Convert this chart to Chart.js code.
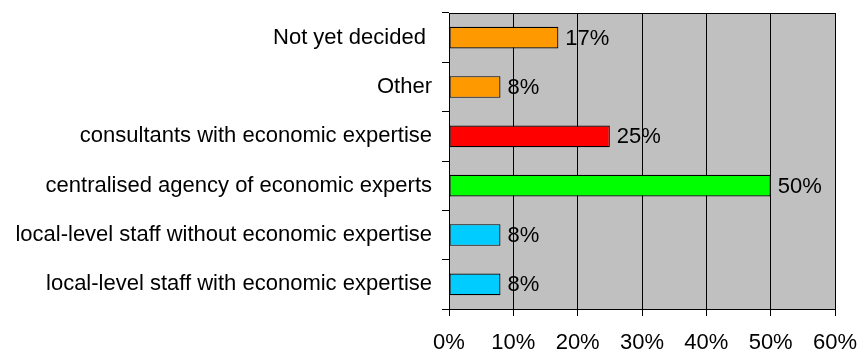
<!DOCTYPE html>
<html>
<head>
<meta charset="utf-8">
<script src="https://cdn.jsdelivr.net/npm/chart.js@4/dist/chart.umd.min.js"></script>
<style>
  html, body { margin: 0; padding: 0; background: #ffffff; }
  #wrap { width: 858px; height: 352px; position: relative; }
</style>
</head>
<body>
<div id="wrap"><canvas id="chart" width="858" height="352"></canvas></div>
<script>
// Survey answers, top to bottom
const categories = [
  'Not yet decided ',
  'Other',
  'consultants with economic expertise',
  'centralised agency of economic experts',
  'local-level staff without economic expertise',
  'local-level staff with economic expertise'
];
// Share of respondents, percent
const shares = [17, 8, 25, 50, 8, 8];
const barColors = ['#FF9900', '#FF9900', '#FF0000', '#00FF00', '#00CCFF', '#00CCFF'];
const xTicks = [0, 10, 20, 30, 40, 50, 60];

const FONT = "'Liberation Sans', Arial, sans-serif";

// Grey plot background plus the thin top edge of the plot frame
const plotFrame = {
  id: 'plotFrame',
  beforeDraw(chart) {
    const { ctx, chartArea: a } = chart;
    ctx.save();
    ctx.fillStyle = '#C0C0C0';
    ctx.fillRect(a.left, a.top, a.right - a.left, a.bottom - a.top);
    ctx.strokeStyle = '#000000';
    ctx.lineWidth = 1;
    ctx.beginPath();
    ctx.moveTo(a.left, Math.round(a.top) + 0.5);
    ctx.lineTo(a.right, Math.round(a.top) + 0.5);
    ctx.stroke();
    ctx.restore();
  }
};

// Percentage printed just past the end of each bar
const barValues = {
  id: 'barValues',
  afterDatasetsDraw(chart) {
    const { ctx } = chart;
    const meta = chart.getDatasetMeta(0);
    const data = chart.data.datasets[0].data;
    ctx.save();
    ctx.font = '22px ' + FONT;
    ctx.fillStyle = '#000000';
    ctx.textAlign = 'left';
    ctx.textBaseline = 'middle';
    meta.data.forEach((bar, i) => {
      ctx.fillText(Math.round(data[i]) + '%', bar.x + 7, bar.y + 1);
    });
    ctx.restore();
  }
};

new Chart(document.getElementById('chart'), {
  type: 'bar',
  data: {
    labels: categories,
    datasets: [{
      data: shares,
      backgroundColor: barColors,
      borderColor: '#000000',
      borderWidth: 1.2,
      borderSkipped: false,
      categoryPercentage: 1,
      barPercentage: 0.44
    }]
  },
  options: {
    indexAxis: 'y',
    responsive: false,
    animation: false,
    layout: { padding: { top: 13, right: 23, bottom: 0, left: 0 } },
    plugins: {
      legend: { display: false },
      tooltip: { enabled: false }
    },
    scales: {
      x: {
        type: 'linear',
        min: 0,
        max: 60,
        afterBuildTicks(axis) {
          axis.ticks = xTicks.map(v => ({ value: v }));
        },
        afterFit(axis) {
          axis.height = 43;
          axis.paddingLeft = 0;
          axis.paddingRight = 0;
        },
        grid: {
          color: '#000000',
          lineWidth: 1,
          tickLength: 7,
          drawOnChartArea: true
        },
        border: { display: true, color: '#000000', width: 1 },
        ticks: {
          color: '#000000',
          font: { family: FONT, size: 22 },
          padding: 14,
          maxRotation: 0,
          callback: v => v + '%'
        }
      },
      y: {
        type: 'category',
        afterFit(axis) {
          axis.width = 449;
          axis.paddingTop = 0;
          axis.paddingBottom = 0;
        },
        grid: {
          offset: true,
          color: '#000000',
          lineWidth: 1,
          tickLength: 7,
          drawOnChartArea: false
        },
        border: { display: true, color: '#000000', width: 1 },
        ticks: {
          color: '#000000',
          font: { family: FONT, size: 22 },
          padding: 10
        }
      }
    }
  },
  plugins: [plotFrame, barValues]
});
</script>
</body>
</html>
